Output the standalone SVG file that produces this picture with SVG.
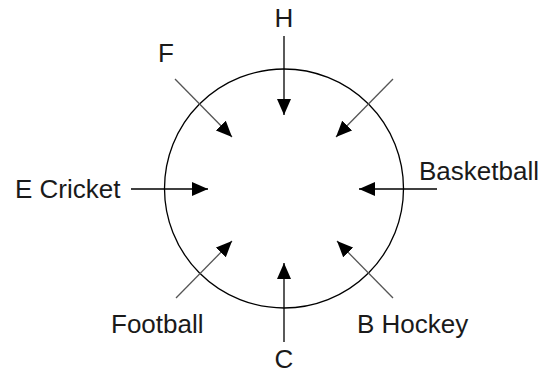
<svg xmlns="http://www.w3.org/2000/svg" width="544" height="373" viewBox="0 0 544 373">
<style>
.lbl{font-family:"Liberation Sans",Arial,sans-serif;font-size:26px;fill:#1a1a1a}
.ring{fill:none;stroke:#000;stroke-width:1.3}
.arr{stroke:#000;stroke-width:1.3;fill:none;marker-end:url(#ah)}
.diag{stroke:#555}
</style>
<defs>
<marker id="ah" markerUnits="userSpaceOnUse" markerWidth="17" markerHeight="14" refX="16" refY="7" orient="auto">
<path d="M0,0 L16,7 L0,14 z" fill="#000"/>
</marker>
</defs>
<rect width="544" height="373" fill="#fff"/>
<g id="circle"><circle class="ring" cx="284" cy="188.5" r="119.5"/></g>
<g id="connectors">
<line class="arr" x1="284" y1="36" x2="284" y2="115"/>
<line class="arr" x1="284" y1="342" x2="284" y2="263"/>
<line class="arr" x1="131" y1="189" x2="208" y2="189"/>
<line class="arr" x1="437" y1="189" x2="359" y2="189"/>
<line class="arr diag" x1="175" y1="79" x2="232" y2="137"/>
<line class="arr diag" x1="393" y1="79" x2="336" y2="137"/>
<line class="arr diag" x1="176" y1="298" x2="232" y2="241"/>
<line class="arr diag" x1="393" y1="298" x2="337" y2="241"/>
</g>
<g id="node-h"><text class="lbl" x="284" y="27" text-anchor="middle">H</text></g>
<g id="node-f"><text class="lbl" x="166" y="62" text-anchor="middle">F</text></g>
<g id="node-e"><text class="lbl" x="15" y="198">E Cricket</text></g>
<g id="node-basketball"><text class="lbl" x="419" y="180">Basketball</text></g>
<g id="node-football"><text class="lbl" x="111" y="333">Football</text></g>
<g id="node-bhockey"><text class="lbl" x="357" y="333">B Hockey</text></g>
<g id="node-c"><text class="lbl" x="284" y="368" text-anchor="middle">C</text></g>
</svg>
